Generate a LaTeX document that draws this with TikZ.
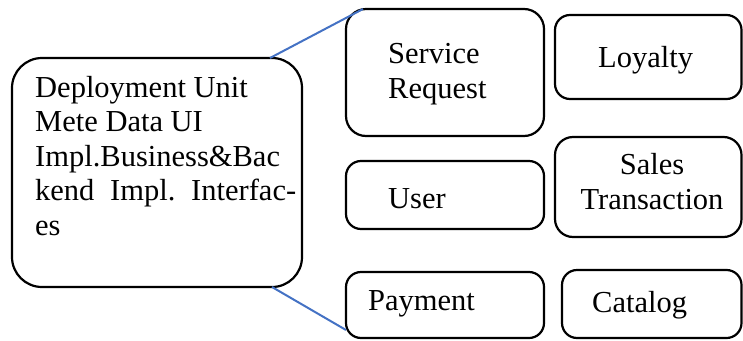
\documentclass[tikz,border=0pt]{standalone}
\usepackage{fontspec}
\setmainfont{Liberation Serif}
\definecolor{linkblue}{RGB}{68,114,196}
\begin{document}
\begin{tikzpicture}[x=1pt,y=-1pt,
  box/.style={draw, line width=2.2pt, inner sep=0pt, outer sep=0pt, anchor=north west, rounded corners=#1},
  box/.default=15pt,
  lbl/.style={font=\fontsize{30.5}{34.5}\selectfont, inner sep=0pt},
  conn/.style={draw=linkblue, line width=2pt}]
\useasboundingbox (0,0) rectangle (743,340);
% boxes
\node[box=30pt, minimum width=290pt, minimum height=229pt] (big) at (12,58) {};
\node[box=20pt, minimum width=198pt, minimum height=127pt] (sr) at (346,9) {};
\node[box, minimum width=186.5pt, minimum height=84pt] (loy) at (555,15) {};
\node[box, minimum width=198pt, minimum height=68pt] (user) at (346,161) {};
\node[box=18pt, minimum width=186.5pt, minimum height=100pt] (sales) at (555,137) {};
\node[box, minimum width=198pt, minimum height=66pt] (pay) at (346,272) {};
\node[box, minimum width=179.5pt, minimum height=68pt] (cat) at (562,270) {};
% texts
\node[lbl, anchor=base west] (bigtxt) at (35,97) {\parbox[t]{261pt}{\frenchspacing Deployment Unit\\
Mete Data UI\\
Impl.Business\&Bac\\
\makebox[261pt][s]{kend Impl. Interfac-}\\
es}};
\node[lbl, anchor=base west, align=left] (srtxt) at (388,98) {Service\\Request};
\node[lbl, anchor=base west] (loytxt) at (598,67) {Loyalty};
\node[lbl, anchor=base west] (usertxt) at (388,208) {User};
\node[lbl, anchor=base, align=center] (salestxt) at (652,209) {Sales\\Transaction};
\node[lbl, anchor=base west] (paytxt) at (368,310) {Payment};
\node[lbl, anchor=base west] (cattxt) at (592,312) {Catalog};
% connectors
\draw[conn] ([xshift=-32pt]big.north east) -- ([xshift=17pt]sr.north west);
\draw[conn] ([xshift=-30pt]big.south east) -- ([yshift=8pt]pay.south west);
\end{tikzpicture}
\end{document}
